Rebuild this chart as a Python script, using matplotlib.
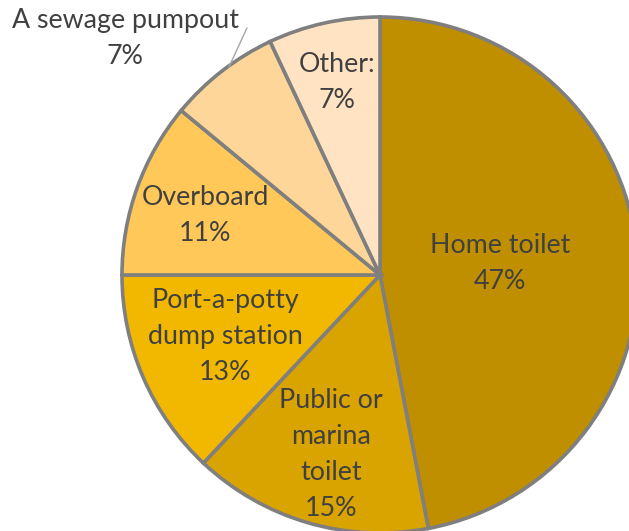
import matplotlib
matplotlib.use("Agg")
import matplotlib.pyplot as plt

labels = ["Home toilet", "Public or\nmarina\ntoilet", "Port-a-potty\ndump station", "Overboard", "A sewage pumpout", "Other:"]
values = [47, 15, 13, 11, 7, 7]
colors = ["#BF8F00", "#D9A300", "#F2B800", "#FFC859", "#FFD699", "#FFE3C2"]

# label positions in pie-radius units (radius = 1)
label_pos = [(0.465, 0.046), (-0.19, -0.696), (-0.60, -0.237), (-0.678, 0.229), (-0.988, 0.915), (-0.167, 0.748)]

plt.rcParams['font.family'] = ['Lato', 'DejaVu Sans']
fig = plt.figure(figsize=(6.29, 5.31), dpi=100)
ax = fig.add_axes([0, 0, 1, 1])
wedges, _ = ax.pie(values, colors=colors, startangle=90, counterclock=False,
                   radius=1.0, center=(0, 0),
                   wedgeprops=dict(edgecolor="#7F7F7F", linewidth=2.6))
for lab, v, (x, y) in zip(labels, values, label_pos):
    ax.text(x, y, f"{lab}\n{v}%", ha="center", va="center", fontsize=19.3,
            color="#404040", linespacing=1.55)
# leader line for the outside label
ax.plot([-0.516, -0.585], [0.957, 0.807], color="#A6A6A6", linewidth=1)

ax.set_xlim(-380/258, (629-380)/258)
ax.set_ylim(-(531-275)/258, 275/258)
ax.set_aspect("equal")
ax.axis("off")
fig.savefig("out.png", dpi=100)
